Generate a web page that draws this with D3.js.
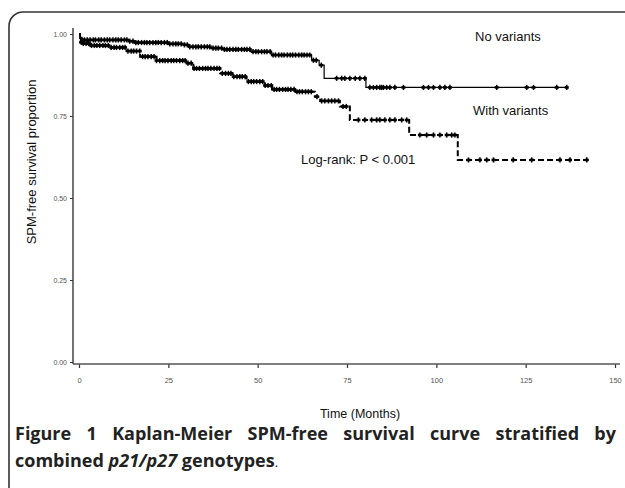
<!DOCTYPE html>
<html>
<head>
<meta charset="utf-8">
<script src="https://cdn.jsdelivr.net/npm/d3@7"></script>
<style>
  body { margin: 0; background: #fff; }
  svg { display: block; }
  .tick text { font-family: "Liberation Sans", Arial, sans-serif; fill: #555; }
  .lbl { font-family: "Liberation Sans", Arial, sans-serif; fill: #111; }
  .cap { font-family: "Open Sans", "Noto Sans", sans-serif; fill: #222; font-weight: 700; }
</style>
</head>
<body>
<svg id="chart" width="625" height="488" viewBox="0 0 625 488"></svg>
<script>
// Axis ticks
const xTicks = [0, 25, 50, 75, 100, 125, 150];
const yTicks = [0, 0.25, 0.5, 0.75, 1];

// Kaplan-Meier steps: [month, survival after the step]
const noVariantSteps = [[0, 1.0], [0.4, 0.99], [0.8, 0.982], [14, 0.978], [15.2, 0.974], [25, 0.970],
    [29.2, 0.967], [31, 0.961], [36.7, 0.957], [40, 0.953], [47.9, 0.946], [53.8, 0.936],
    [65.1, 0.920], [67.2, 0.905], [68.6, 0.865], [80.3, 0.837]];
const noVariantEnd = 136.5;
const noVariantCensor = [0.8, 1.5, 2.3, 3.1, 4.0, 4.6, 5.5, 6.2, 7.1, 7.9, 8.6, 9.5, 10.3, 11.0, 11.8, 12.7,
    13.4, 14.2, 15.1, 15.9, 16.6, 17.5, 18.3, 19.0, 19.8, 20.7, 21.5, 22.2, 23.0, 23.9, 24.7, 25.4, 26.3,
    27.1, 27.8, 28.6, 29.5, 30.3, 31.0, 31.9, 32.7, 33.4, 34.2, 35.1, 35.9, 36.6, 37.5, 38.3, 39.0, 39.9,
    40.7, 41.4, 42.2, 43.1, 43.9, 44.6, 45.5, 46.3, 47.0, 47.8, 48.7, 49.5, 50.2, 51.1, 51.9, 52.6, 53.5,
    54.3, 55.0, 55.9, 56.7, 57.4, 58.3, 59.1, 59.8, 60.6, 61.5, 62.3, 63.0, 63.8, 64.6, 65.6, 66.4, 67.8,
    72.1, 73.5, 74.4, 75.8, 77.3, 78.6, 80.0, 81.4, 82.4, 83.3, 84.2, 84.7, 85.2, 86.1, 87.0, 88.4, 90.8,
    96.4, 97.8, 99.2, 101.0, 102.4, 103.8, 116.9, 125.3, 127.2, 133.7, 136.5];

const withVariantSteps = [[0, 1.0], [0.3, 0.975], [1, 0.971], [3.1, 0.965], [8.7, 0.959], [13.3, 0.948],
    [17.1, 0.931], [21.7, 0.919], [30.1, 0.911], [32, 0.895], [39.5, 0.880], [43, 0.870], [46.9, 0.855],
    [52, 0.843], [54, 0.831], [60.5, 0.824], [66, 0.809], [67.5, 0.796], [73, 0.779], [75.8, 0.738],
    [92.4, 0.692], [106, 0.616]];
const withVariantEnd = 142.5;
const withVariantCensor = [0.6, 1.2, 2.0, 2.7, 3.5, 4.3, 5.0, 5.8, 6.7, 7.4, 8.2, 9.0, 9.8, 10.5, 11.4, 12.2,
    12.9, 13.7, 14.6, 15.3, 16.1, 17.0, 17.8, 18.5, 19.3, 20.2, 21.0, 21.7, 22.6, 23.4, 24.1, 24.9, 25.8,
    26.5, 27.3, 28.2, 29.0, 29.7, 30.5, 31.4, 32.2, 32.9, 33.7, 34.6, 35.4, 36.1, 36.9, 37.8, 38.6, 39.3,
    40.1, 41.0, 41.8, 42.5, 43.3, 44.2, 45.0, 45.7, 46.5, 47.4, 48.2, 48.9, 49.7, 50.6, 51.4, 52.1, 52.9,
    53.8, 54.6, 55.3, 56.1, 57.0, 57.8, 58.5, 59.3, 60.2, 61.0, 61.7, 62.5, 63.4, 64.2, 65.0, 66.6, 67.9,
    68.8, 69.8, 70.7, 71.6, 72.6, 73.9, 74.8, 78.2, 80.0, 81.9, 83.3, 84.2, 85.6, 87.0, 88.4, 90.3, 91.7,
    95.4, 97.3, 99.2, 101.0, 102.9, 104.3, 105.2, 109.0, 112.2, 114.1, 116.0, 121.5, 126.7, 134.6, 137.4, 142.1];

const svg = d3.select('#chart');

// Frame
svg.append('rect')
    .attr('x', 9).attr('y', 12)
    .attr('width', 700).attr('height', 600)
    .attr('rx', 14)
    .attr('fill', 'none')
    .attr('stroke', '#333')
    .attr('stroke-width', 1.6);

// Scales
const x = d3.scaleLinear().domain([0, 150]).range([79, 615]);
const y = d3.scaleLinear().domain([0, 1]).range([362, 34]);

// Axes
const yAxis = svg.append('g')
    .attr('transform', 'translate(73,0)')
    .call(d3.axisLeft(y).tickValues(yTicks).tickFormat(d3.format('.2f')).tickSize(3).tickSizeOuter(0).tickPadding(3));
yAxis.select('.domain').remove();
yAxis.selectAll('.tick text').attr('font-size', 7);
yAxis.selectAll('.tick line').attr('stroke', '#333');

const xAxis = svg.append('g')
    .attr('transform', 'translate(0,364)')
    .call(d3.axisBottom(x).tickValues(xTicks).tickSize(4).tickSizeOuter(0).tickPadding(10));
xAxis.select('.domain').remove();
xAxis.selectAll('.tick text').attr('font-size', 7.5);
xAxis.selectAll('.tick line').attr('stroke', '#333').attr('stroke-width', 1.2);

// axis lines
svg.append('line')
    .attr('x1', 73).attr('x2', 73)
    .attr('y1', y(1) - 6).attr('y2', 364)
    .attr('stroke', '#444').attr('stroke-width', 1.5);
svg.append('line')
    .attr('x1', 73).attr('x2', x(150) + 5)
    .attr('y1', 364).attr('y2', 364)
    .attr('stroke', '#555').attr('stroke-width', 1.5);

// Curves
const line = d3.line()
    .x(d => x(d[0]))
    .y(d => y(d[1]))
    .curve(d3.curveStepAfter);

const bis = d3.bisector(d => d[0]).right;
function survAt(steps, t) {
    return steps[Math.max(0, bis(steps, t) - 1)][1];
}

function drawCurve(steps, end, censor, dashed) {
    const pts = steps.concat([[end, steps[steps.length - 1][1]]]);
    svg.append('path')
        .datum(pts)
        .attr('d', line)
        .attr('fill', 'none')
        .attr('stroke', '#000')
        .attr('stroke-width', dashed ? 2 : 1.2)
        .attr('stroke-dasharray', dashed ? '6,3' : null);

    const g = svg.append('g').attr('stroke', '#000');
    g.selectAll('line.v')
        .data(censor)
        .enter()
        .append('line')
        .attr('x1', d => x(d)).attr('x2', d => x(d))
        .attr('y1', d => y(survAt(steps, d)) - 2.6)
        .attr('y2', d => y(survAt(steps, d)) + 2.6)
        .attr('stroke-width', 1.5);
    g.selectAll('line.h')
        .data(censor)
        .enter()
        .append('line')
        .attr('x1', d => x(d) - 2).attr('x2', d => x(d) + 2)
        .attr('y1', d => y(survAt(steps, d)))
        .attr('y2', d => y(survAt(steps, d)))
        .attr('stroke-width', 2.6);
}

drawCurve(noVariantSteps, noVariantEnd, noVariantCensor, false);
drawCurve(withVariantSteps, withVariantEnd, withVariantCensor, true);

// Annotations
svg.append('text').attr('class', 'lbl')
    .attr('x', 475).attr('y', 41).attr('font-size', 13)
    .text('No variants');
svg.append('text').attr('class', 'lbl')
    .attr('x', 473).attr('y', 115).attr('font-size', 13)
    .text('With variants');
svg.append('text').attr('class', 'lbl')
    .attr('x', 301).attr('y', 164).attr('font-size', 13)
    .text('Log-rank: P < 0.001');

// Axis titles
svg.append('text').attr('class', 'lbl')
    .attr('transform', 'translate(36,162) rotate(-90)')
    .attr('text-anchor', 'middle')
    .attr('font-size', 13)
    .text('SPM-free survival proportion');
svg.append('text').attr('class', 'lbl')
    .attr('x', 360).attr('y', 418)
    .attr('text-anchor', 'middle')
    .attr('font-size', 12.5)
    .text('Time (Months)');

// Caption
const cap1 = svg.append('text').attr('class', 'cap')
    .attr('x', 15).attr('y', 440).attr('font-size', 18)
    .text('Figure 1 Kaplan-Meier SPM-free survival curve stratified by');
const target = 616 - 15;
const w1 = cap1.node().getComputedTextLength();
const gaps = 7;
cap1.attr('word-spacing', ((target - w1) / gaps) + 'px');

const cap2 = svg.append('text').attr('class', 'cap')
    .attr('x', 15).attr('y', 467).attr('font-size', 18);
cap2.append('tspan').text('combined ');
cap2.append('tspan').attr('font-style', 'italic').text('p21/p27');
cap2.append('tspan').text(' genotypes');
cap2.append('tspan').attr('font-weight', 400).attr('font-size', 13).text('.');
</script>
</body>
</html>
